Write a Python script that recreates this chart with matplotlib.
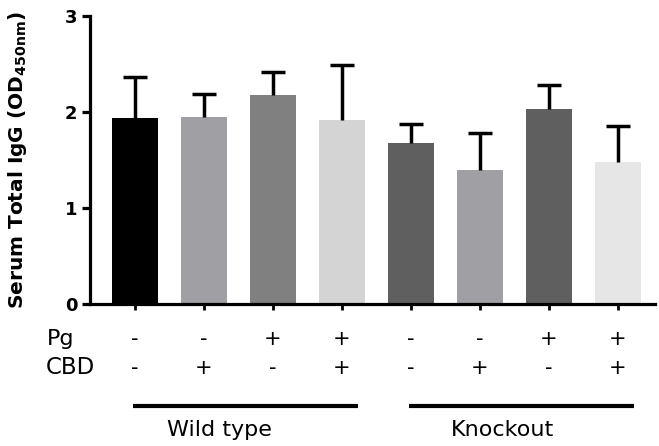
import matplotlib
matplotlib.use("Agg")
import matplotlib.pyplot as plt
import matplotlib.transforms as mtransforms

means = [1.94, 1.95, 2.18, 1.92, 1.68, 1.40, 2.03, 1.48]
errors = [0.42, 0.24, 0.24, 0.57, 0.20, 0.38, 0.25, 0.37]
colors = ["#000000", "#a0a0a4", "#808080", "#d4d4d4",
          "#5f5f5f", "#a0a0a4", "#5f5f5f", "#e6e6e6"]
pg_signs = ["-", "-", "+", "+", "-", "-", "+", "+"]
cbd_signs = ["-", "+", "-", "+", "-", "+", "-", "+"]
groups = ["Wild type", "Knockout"]
yticks = [0, 1, 2, 3]

plt.rcParams['font.family'] = ['DejaVu Sans']
plt.rcParams['mathtext.fontset'] = 'custom'
plt.rcParams['mathtext.bf'] = 'DejaVu Sans:bold'
plt.rcParams['mathtext.rm'] = 'DejaVu Sans:bold'

W, H = 659, 446
fig = plt.figure(figsize=(W / 100, H / 100), dpi=100)
ax = fig.add_axes([90 / W, (H - 304) / H, 565 / W, 288 / H])

x = list(range(len(means)))
ax.bar(x, means, width=0.667, color=colors, edgecolor='none', zorder=2)
eb = ax.errorbar(x, means, yerr=[[0] * len(errors), errors], fmt='none',
                 ecolor='black', elinewidth=2.5, capsize=8.3, capthick=2.5, zorder=3)
# hide the lower caps (only upper error shown)
caplines = eb[1]
if len(caplines) >= 2:
    caplines[0].set_visible(False)

ax.set_xlim(-0.652, 7.536)
ax.set_ylim(0, 3)
ax.set_yticks(yticks)
ax.set_yticklabels([str(t) for t in yticks], fontweight='bold', fontsize=13)
ax.set_xticks(x)
ax.set_xticklabels([])
for s in ['top', 'right']:
    ax.spines[s].set_visible(False)
for s in ['left', 'bottom']:
    ax.spines[s].set_linewidth(2.3)
ax.tick_params(axis='y', length=6, width=2.3, pad=3)
ax.tick_params(axis='x', length=4.5, width=2.0)

ax.set_ylabel(r'Serum Total IgG (OD$_{\mathbf{450nm}}$)', fontweight='bold',
              fontsize=14.5, labelpad=26)

trans = mtransforms.blended_transform_factory(ax.transData, fig.transFigure)
pg_y = (H - 339) / H
cbd_y = (H - 368) / H
for xi, p, c in zip(x, pg_signs, cbd_signs):
    ax.text(xi, pg_y, p, transform=trans, ha='center', va='center', fontsize=15)
    ax.text(xi, cbd_y, c, transform=trans, ha='center', va='center', fontsize=15)
fig.text(61 / W, pg_y, "Pg", ha='center', va='center', fontsize=16)
fig.text(70 / W, cbd_y, "CBD", ha='center', va='center', fontsize=16.5)

line_y = (H - 406) / H
label_y = (H - 430) / H
for gi, name in enumerate(groups):
    start = gi * 4
    ax.plot([start - 0.03, start + 3.23], [line_y, line_y], transform=trans,
            color='black', lw=3, clip_on=False, solid_capstyle='butt')
    ax.text(start + 1.23 + gi * 0.1, label_y, name, transform=trans,
            ha='center', va='center', fontsize=16)

fig.savefig("out.png", dpi=100)
